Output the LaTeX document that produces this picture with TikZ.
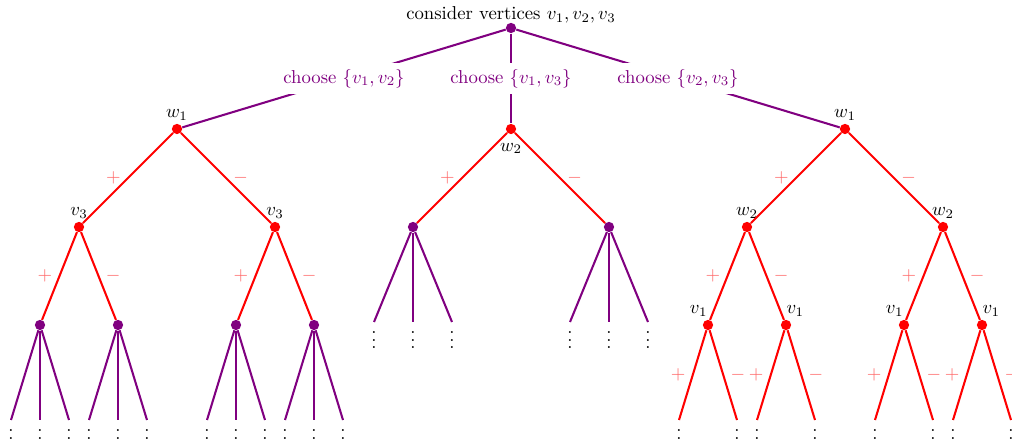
\documentclass[tikz,border=0pt]{standalone}
\usepackage{amsmath}
\usetikzlibrary{positioning}

\begin{document}
\begin{tikzpicture}[
  x=0.535pt, y=-0.535pt,
  label distance=-2pt,
  pdot/.style={circle, fill=violet, inner sep=0pt, minimum size=5.5pt},
  rdot/.style={circle, fill=red, inner sep=0pt, minimum size=5.5pt},
  pline/.style={draw=violet, line width=1.1pt},
  rline/.style={draw=red, line width=1.1pt},
  choice/.style={fill=white, text=violet},
  sign/.style={text=red!60},
  dots/.style={inner sep=0pt, yshift=1pt},
]
  \useasboundingbox (0,0) rectangle (1012,444);

  % root and the three choices
  \node[pdot, label={[label distance=-4pt]above:consider vertices $v_1,v_2,v_3$}] (root) at (511,28) {};
  \node[rdot, label=above:$w_1$] (a) at (177,129) {};
  \node[rdot, label={[label distance=1pt]below:$w_2$}] (b) at (511,129) {};
  \node[rdot, label=above:$w_1$] (c) at (845,129) {};

  \draw[pline] (root) -- node[choice] {choose $\{v_1,v_2\}$} (a);
  \draw[pline] (root) -- node[choice] {choose $\{v_1,v_3\}$} (b);
  \draw[pline] (root) -- node[choice] {choose $\{v_2,v_3\}$} (c);

  % left: w1 then v3
  \node[rdot, label=above:$v_3$] (a1) at (79,227) {};
  \node[rdot, label=above:$v_3$] (a2) at (275,227) {};
  \node[pdot] (a11) at (40,325) {};
  \node[pdot] (a12) at (118,325) {};
  \node[pdot] (a21) at (236,325) {};
  \node[pdot] (a22) at (314,325) {};

  \draw[rline] (a) -- node[sign, left] {$+$} (a1);
  \draw[rline] (a) -- node[sign, right] {$-$} (a2);
  \draw[rline] (a1) -- node[sign, left] {$+$} (a11);
  \draw[rline] (a1) -- node[sign, right] {$-$} (a12);
  \draw[rline] (a2) -- node[sign, left] {$+$} (a21);
  \draw[rline] (a2) -- node[sign, right] {$-$} (a22);

  \foreach \p in {a11,a12,a21,a22} {
    \foreach \d [count=\i] in {-29,0,29} {
      \path (\p) ++(\d,95) coordinate (\p-\i);
      \draw[pline] (\p) -- (\p-\i);
      \node[dots, below=0pt of \p-\i] (\p-\i-v) {$\vdots$};
    }
  }

  % middle: w2 only
  \node[pdot] (b1) at (413,227) {};
  \node[pdot] (b2) at (609,227) {};
  \draw[rline] (b) -- node[sign, left] {$+$} (b1);
  \draw[rline] (b) -- node[sign, right] {$-$} (b2);

  \foreach \p in {b1,b2} {
    \foreach \d [count=\i] in {-39,0,39} {
      \path (\p) ++(\d,95) coordinate (\p-\i);
      \draw[pline] (\p) -- (\p-\i);
      \node[dots, below=0pt of \p-\i] (\p-\i-v) {$\vdots$};
    }
  }

  % right: w1, w2 then v1
  \node[rdot, label=above:$w_2$] (c1) at (747,227) {};
  \node[rdot, label=above:$w_2$] (c2) at (943,227) {};
  \node[rdot, label={[xshift=-5pt]above:$v_1$}] (c11) at (708,325) {};
  \node[rdot, label={[xshift=5pt]above:$v_1$}] (c12) at (786,325) {};
  \node[rdot, label={[xshift=-5pt]above:$v_1$}] (c21) at (904,325) {};
  \node[rdot, label={[xshift=5pt]above:$v_1$}] (c22) at (982,325) {};

  \draw[rline] (c) -- node[sign, left] {$+$} (c1);
  \draw[rline] (c) -- node[sign, right] {$-$} (c2);
  \draw[rline] (c1) -- node[sign, left] {$+$} (c11);
  \draw[rline] (c1) -- node[sign, right] {$-$} (c12);
  \draw[rline] (c2) -- node[sign, left] {$+$} (c21);
  \draw[rline] (c2) -- node[sign, right] {$-$} (c22);

  \foreach \p in {c11,c12,c21,c22} {
    \path (\p) ++(-29,95) coordinate (\p-1) ++(58,0) coordinate (\p-2);
    \draw[rline] (\p) -- node[sign, left] {$+$} (\p-1);
    \draw[rline] (\p) -- node[sign, right] {$-$} (\p-2);
    \node[dots, below=0pt of \p-1] (\p-1-v) {$\vdots$};
    \node[dots, below=0pt of \p-2] (\p-2-v) {$\vdots$};
  }
\end{tikzpicture}
\end{document}
